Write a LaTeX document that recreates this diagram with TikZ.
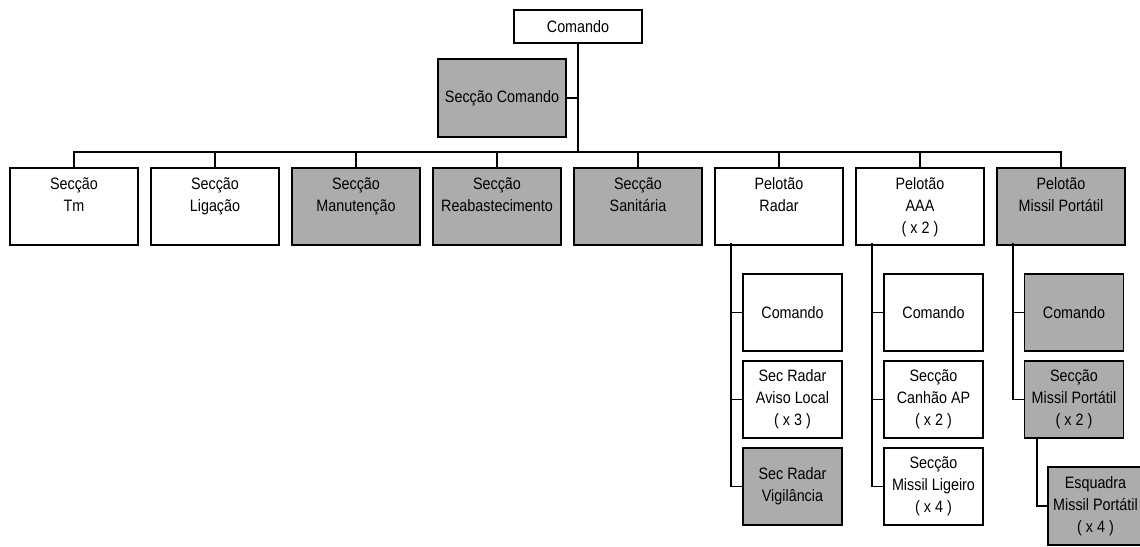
\documentclass[tikz,border=0pt]{standalone}
\usepackage{fontspec}
\setmainfont[FakeStretch=0.87]{Liberation Sans}
\definecolor{shade}{RGB}{172,172,172}
\begin{document}
\begin{tikzpicture}[x=1pt,y=-1pt,
  box/.style={draw=black, line width=1.3pt, rectangle, inner sep=0pt, align=center,
    font=\fontsize{16.5}{22}\selectfont},
  rowbox/.style={box, minimum width=128pt, minimum height=77pt},
  subbox/.style={box, minimum width=99pt, minimum height=77pt},
  gbox/.style={fill=shade},
  toptext/.style={anchor=north, inner sep=0pt, yshift=-10pt, align=center,
    font=\fontsize{16.5}{22}\selectfont},
  conn/.style={line width=1.3pt}]
\useasboundingbox (0,0) rectangle (1140,546);
% top level
\node[box, minimum width=128pt, minimum height=33pt] (cmd) at (578,26.5) {Comando};
\node[box, gbox, minimum width=128pt, minimum height=78pt] (sc) at (502,98) {Secção Comando};
% row
\node[rowbox, label={[toptext]north:Secção\\Tm}] (tm) at (74,206.5) {};
\node[rowbox, label={[toptext]north:Secção\\Ligação}] (lig) at (215,206.5) {};
\node[rowbox, gbox, label={[toptext]north:Secção\\Manutenção}] (man) at (356,206.5) {};
\node[rowbox, gbox, label={[toptext]north:Secção\\Reabastecimento}] (rea) at (497,206.5) {};
\node[rowbox, gbox, label={[toptext]north:Secção\\Sanitária}] (san) at (638,206.5) {};
\node[rowbox, label={[toptext]north:Pelotão\\Radar}] (pr) at (779,206.5) {};
\node[rowbox, label={[toptext]north:Pelotão\\AAA\\( x 2 )}] (paa) at (920,206.5) {};
\node[rowbox, gbox, label={[toptext]north:Pelotão\\Missil Portátil}] (pmp) at (1061,206.5) {};
% radar subunits
\node[subbox] (rcmd) at (792.5,312.5) {Comando};
\node[subbox] (ravl) at (792.5,399.5) {Sec Radar\\Aviso Local\\( x 3 )};
\node[subbox, gbox] (rvig) at (792.5,486.5) {Sec Radar\\Vigilância};
% AAA subunits
\node[subbox] (acmd) at (933.5,312.5) {Comando};
\node[subbox] (acan) at (933.5,399.5) {Secção\\Canhão AP\\( x 2 )};
\node[subbox] (amis) at (933.5,486.5) {Secção\\Missil Ligeiro\\( x 4 )};
% Missil portatil subunits
\node[subbox, gbox] (mcmd) at (1074,312.5) {Comando};
\node[subbox, gbox] (msec) at (1074,399.5) {Secção\\Missil Portátil\\( x 2 )};
\node[box, gbox, minimum width=95pt, minimum height=78pt] (mesq) at (1095.5,506) {Esquadra\\Missil Portátil\\( x 4 )};
% connectors
\coordinate (bus) at (578,152);
\draw[conn] (cmd.south) -- (cmd.south |- bus);
\draw[conn] (sc.east) -- (sc.east -| cmd.south);
\draw[conn] (tm.north) |- (pmp.north |- bus) -- (pmp.north);
\foreach \n in {lig,man,rea,san,pr,paa}
  \draw[conn] (\n.north) -- (\n.north |- bus);
\coordinate (prl) at (731,243);
\coordinate (pal) at (872,243);
\coordinate (pml) at (1013,243);
\coordinate (msl) at (1037,437.5);
\draw[conn] (prl) |- (rvig.west);
\draw[conn] (rcmd.west) -- (rcmd.west -| prl);
\draw[conn] (ravl.west) -- (ravl.west -| prl);
\draw[conn] (pal) |- (amis.west);
\draw[conn] (acmd.west) -- (acmd.west -| pal);
\draw[conn] (acan.west) -- (acan.west -| pal);
\draw[conn] (pml) |- (msec.west);
\draw[conn] (mcmd.west) -- (mcmd.west -| pml);
\draw[conn] (msl) |- (mesq.west);
\end{tikzpicture}
\end{document}
